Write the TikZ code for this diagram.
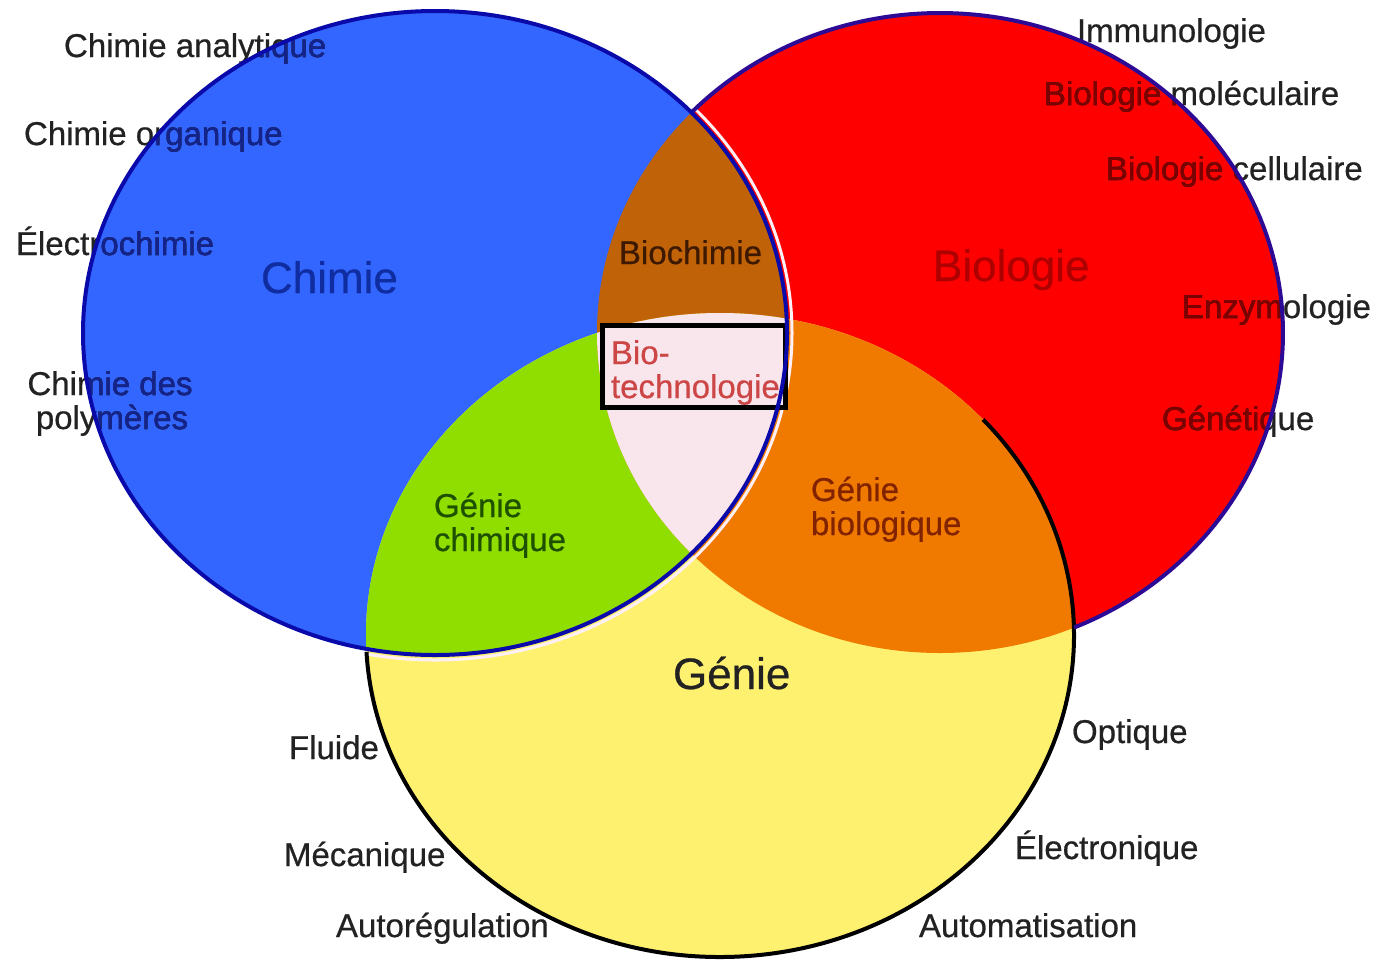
\documentclass[tikz,border=0pt]{standalone}
\usepackage{fontspec}
\setmainfont{Liberation Sans}[FakeBold=0.6]
\definecolor{cblue}{RGB}{51,102,255}
\definecolor{cred}{RGB}{255,0,0}
\definecolor{cyel}{RGB}{255,241,112}
\definecolor{cbrown}{RGB}{192,98,8}
\definecolor{cgreen}{RGB}{143,222,0}
\definecolor{corange}{RGB}{240,122,0}
\definecolor{cpink}{RGB}{249,230,237}
\definecolor{navy}{RGB}{10,10,170}
\definecolor{rednavy}{RGB}{45,10,150}
\definecolor{halo}{RGB}{255,240,248}
\definecolor{tgray}{RGB}{34,34,34}
\definecolor{dkblue}{RGB}{20,35,140}
\definecolor{bigblue}{RGB}{15,45,160}
\definecolor{dkred}{RGB}{125,0,0}
\definecolor{bigred}{RGB}{175,0,0}
\definecolor{dkbrown}{RGB}{60,25,0}
\definecolor{dkgreen}{RGB}{30,80,0}
\definecolor{dkorange}{RGB}{130,35,0}
\definecolor{biored}{RGB}{205,70,70}
\tikzset{
  lbl/.style={inner sep=0pt, outer sep=0pt, anchor=base west, font=\fontsize{16.5}{20}\selectfont, text=tgray},
  biglbl/.style={inner sep=0pt, outer sep=0pt, anchor=base west, font=\fontsize{22}{26}\selectfont},
  outline/.style={line width=2pt},
  boxst/.style={draw=black, line width=2.5pt, fill=cpink, inner sep=0pt, outer sep=0pt, minimum width=91.5pt, minimum height=41pt}
}
\def\blueE{(435,-333) ellipse [x radius=176pt, y radius=161pt]}
\def\redE{(940,-333) ellipse [x radius=171.5pt, y radius=160pt]}
\def\yelE{(720,-635) ellipse [x radius=177pt, y radius=161pt]}
\newcommand\chimlbls[2]{%
  \node[lbl,text=#2] (ca#1) at (64,-57) {Chimie analytique};
  \node[lbl,text=#2] (co#1) at (24,-145) {Chimie organique};
  \node[lbl,text=#2] (el#1) at (16,-255) {Électrochimie};
  \node[lbl,anchor=base,text=#2] (cd#1) at (110,-395) {Chimie des};
  \node[lbl,anchor=base,text=#2] (po#1) at (112,-429) {polymères};
}
\newcommand\biolbls[2]{%
  \node[lbl,text=#2] (im#1) at (1077,-42) {Immunologie};
  \node[lbl,text=#2] (bm#1) at (1044,-105) {Biologie moléculaire};
  \node[lbl,text=#2] (bc#1) at (1106,-180) {Biologie cellulaire};
  \node[lbl,text=#2] (en#1) at (1182,-318) {Enzymologie};
  \node[lbl,text=#2] (ge#1) at (1162,-430) {Génétique};
}
\begin{document}
\begin{tikzpicture}[x=0.5pt,y=0.5pt]
\fill[white] (0,0) rectangle (1375,-960);
\useasboundingbox (0,0) rectangle (1375,-960);
% base fills
\fill[cred] \redE;
\fill[cblue] \blueE;
\fill[cyel] \yelE;
% intersections
\begin{scope}\clip \blueE; \fill[cbrown] \redE; \end{scope}
\begin{scope}\clip \blueE; \fill[cgreen] \yelE; \end{scope}
\begin{scope}\clip \redE; \fill[corange] \yelE; \end{scope}
\begin{scope}\clip \blueE; \clip \redE; \fill[cpink] \yelE; \end{scope}
% halo of blue circle (visible only over coloured areas)
\begin{scope}
  \clip \redE (720,-635) ellipse [x radius=178pt, y radius=162pt];
  \draw[halo, line width=1.5pt] (435,-333) ellipse [x radius=178.5pt, y radius=163.5pt];
\end{scope}
% biotech box
\node[boxst] (biobox) at (694,-366.5) {};
% partial outline of the Génie circle
\draw[outline, black] ({720+354*cos(183)},{-635+322*sin(183)}) arc[start angle=183, end angle=402, x radius=177pt, y radius=161pt];
% labels
\chimlbls{}{tgray}
\biolbls{}{tgray}
\begin{scope}\clip \blueE; \chimlbls{b}{dkblue} \end{scope}
\begin{scope}\clip \redE; \biolbls{r}{dkred} \end{scope}
\node[lbl] (fl) at (289,-759) {Fluide};
\node[lbl] (me) at (284,-866) {Mécanique};
\node[lbl] (au) at (336,-937) {Autorégulation};
\node[lbl] (op) at (1072,-743) {Optique};
\node[lbl] (elc) at (1015,-859) {Électronique};
\node[lbl] (am) at (919,-937) {Automatisation};
\node[lbl,text=dkbrown] (bioch) at (619,-264) {Biochimie};
\node[lbl,text=biored] (bio1) at (611,-364) {Bio-};
\node[lbl,text=biored] (bio2) at (611,-398) {technologie};
\node[lbl,text=dkgreen] (gc1) at (434,-517) {Génie};
\node[lbl,text=dkgreen] (gc2) at (434,-551) {chimique};
\node[lbl,text=dkorange] (gb1) at (811,-501) {Génie};
\node[lbl,text=dkorange] (gb2) at (811,-535) {biologique};
\node[biglbl,text=bigblue] (chimie) at (261,-293) {Chimie};
\node[biglbl,text=bigred] (biologie) at (933,-281) {Biologie};
\node[biglbl,text=tgray] (genie) at (673,-689) {Génie};
% outlines on top
\draw[outline, rednavy] ({940+343*cos(136.6)},{-333+320*sin(136.6)}) arc[start angle=136.6, end angle=-67, x radius=171.5pt, y radius=160pt];
\draw[outline, navy] \blueE;
\end{tikzpicture}
\end{document}
